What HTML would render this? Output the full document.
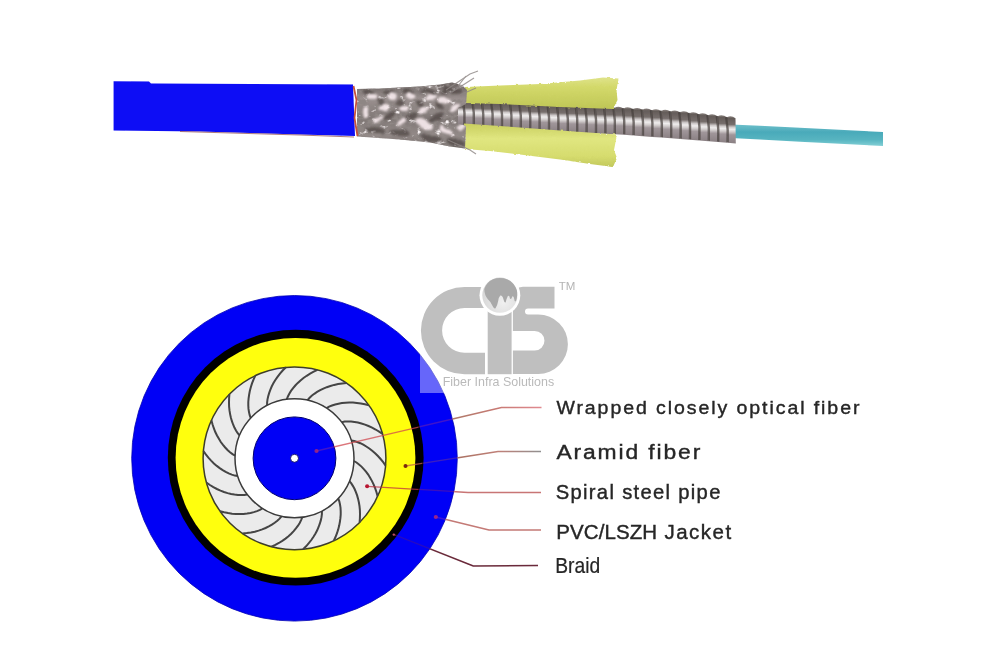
<!DOCTYPE html>
<html lang="en">
<head>
<meta charset="utf-8">
<title>Armored fiber optic cable structure</title>
<style>
html,body{margin:0;padding:0;background:#fff;}
body{width:1000px;height:667px;overflow:hidden;position:relative;font-family:"Liberation Sans",sans-serif;}
svg{position:absolute;left:0;top:0;display:block;}
.lbl text{font-family:"Liberation Sans",sans-serif;fill:#262626;stroke:#262626;stroke-width:0.4;}
</style>
</head>
<body>
<svg width="1000" height="667" viewBox="0 0 1000 667">
<defs>
  <linearGradient id="steel" x1="0" y1="0" x2="0" y2="1">
    <stop offset="0" stop-color="#8a827f"/>
    <stop offset="0.08" stop-color="#645c59"/>
    <stop offset="0.3" stop-color="#766e6c"/>
    <stop offset="0.4" stop-color="#cfcaca"/>
    <stop offset="0.48" stop-color="#efeded"/>
    <stop offset="0.57" stop-color="#d2cdcd"/>
    <stop offset="0.68" stop-color="#a0969a"/>
    <stop offset="1" stop-color="#8a8083"/>
  </linearGradient>
  <linearGradient id="fiber" x1="0" y1="0" x2="0" y2="1">
    <stop offset="0" stop-color="#6ec0cb"/>
    <stop offset="0.35" stop-color="#4aaaba"/>
    <stop offset="0.7" stop-color="#56b4c0"/>
    <stop offset="1" stop-color="#84d0d6"/>
  </linearGradient>
  <linearGradient id="braid" x1="0" y1="0" x2="0" y2="1">
    <stop offset="0" stop-color="#6a6260"/>
    <stop offset="0.25" stop-color="#9a908f"/>
    <stop offset="0.55" stop-color="#7f7775"/>
    <stop offset="0.8" stop-color="#938a88"/>
    <stop offset="1" stop-color="#6f6865"/>
  </linearGradient>
  <linearGradient id="yel" x1="0" y1="0" x2="0" y2="1">
    <stop offset="0" stop-color="#dfe38a"/>
    <stop offset="0.3" stop-color="#d3d96a"/>
    <stop offset="1" stop-color="#bfc656"/>
  </linearGradient>
  <linearGradient id="yel2" x1="0" y1="0" x2="0" y2="1">
    <stop offset="0" stop-color="#c8ce5e"/>
    <stop offset="0.35" stop-color="#e0e680"/>
    <stop offset="0.75" stop-color="#d6dc6e"/>
    <stop offset="1" stop-color="#c2c85c"/>
  </linearGradient>
  <radialGradient id="globe" cx="0.6" cy="0.7" r="0.8">
    <stop offset="0" stop-color="#f0f0f0"/>
    <stop offset="1" stop-color="#d0d0d0"/>
  </radialGradient>
  <filter id="soft" x="-5%" y="-20%" width="110%" height="140%"><feGaussianBlur stdDeviation="0.7"/></filter>
  <filter id="soft2" x="-5%" y="-20%" width="110%" height="140%"><feGaussianBlur stdDeviation="1.1"/></filter>
  <filter id="noiseDk" x="0" y="0" width="100%" height="100%">
    <feTurbulence type="fractalNoise" baseFrequency="0.16 0.2" numOctaves="3" seed="3"/>
    <feColorMatrix type="matrix" values="0 0 0 0 0.27  0 0 0 0 0.24  0 0 0 0 0.23  3 3 0 0 -2.75"/>
    <feGaussianBlur stdDeviation="0.5"/>
  </filter>
  <filter id="noiseLt" x="0" y="0" width="100%" height="100%">
    <feTurbulence type="fractalNoise" baseFrequency="0.14 0.2" numOctaves="3" seed="11"/>
    <feColorMatrix type="matrix" values="0 0 0 0 0.95  0 0 0 0 0.9  0 0 0 0 0.91  3.2 0 3.2 0 -3.75"/>
    <feGaussianBlur stdDeviation="0.5"/>
  </filter>
  <filter id="rough" x="-10%" y="-30%" width="120%" height="160%">
    <feTurbulence type="fractalNoise" baseFrequency="0.09 0.12" numOctaves="2" seed="4" result="n"/>
    <feDisplacementMap in="SourceGraphic" in2="n" scale="7" xChannelSelector="R" yChannelSelector="G" result="d"/>
    <feGaussianBlur in="d" stdDeviation="0.9"/>
  </filter>
  <filter id="fuzz" x="-10%" y="-30%" width="120%" height="160%">
    <feTurbulence type="fractalNoise" baseFrequency="0.25 0.35" numOctaves="2" seed="9" result="n"/>
    <feDisplacementMap in="SourceGraphic" in2="n" scale="2.5" xChannelSelector="R" yChannelSelector="G" result="d"/>
    <feGaussianBlur in="d" stdDeviation="0.5"/>
  </filter>
  <clipPath id="midzone"><path d="M422.4,458.3 A127.9,127.9 0 1 0 166.6,458.3 A127.9,127.9 0 1 0 422.4,458.3 Z M336,458.3 A41.5,41.5 0 1 0 253,458.3 A41.5,41.5 0 1 0 336,458.3 Z" clip-rule="evenodd"/></clipPath>
  <clipPath id="bluezone"><path d="M457.5,458.3 A163,163 0 1 0 131.5,458.3 A163,163 0 1 0 457.5,458.3 Z M422.4,458.3 A127.9,127.9 0 1 0 166.6,458.3 A127.9,127.9 0 1 0 422.4,458.3 Z M336,458.3 A41.5,41.5 0 1 0 253,458.3 A41.5,41.5 0 1 0 336,458.3 Z" clip-rule="evenodd"/></clipPath>
  <clipPath id="inside"><circle cx="294.5" cy="458.3" r="163"/></clipPath>
  <clipPath id="outside"><path d="M0,0 H1000 V667 H0 Z M457.5,458.3 A163,163 0 1 0 131.5,458.3 A163,163 0 1 0 457.5,458.3 Z" clip-rule="evenodd"/></clipPath>
  <linearGradient id="ln1" gradientUnits="userSpaceOnUse" x1="455" y1="0" x2="541" y2="0">
    <stop offset="0" stop-color="#b07a6a"/><stop offset="0.5" stop-color="#c87a74"/><stop offset="1" stop-color="#e08a90"/>
  </linearGradient>
  <linearGradient id="ln2" gradientUnits="userSpaceOnUse" x1="455" y1="0" x2="541" y2="0">
    <stop offset="0" stop-color="#a87060"/><stop offset="0.5" stop-color="#c08078"/><stop offset="1" stop-color="#909090"/>
  </linearGradient>
  <filter id="soft4" x="-2%" y="-2%" width="104%" height="104%"><feGaussianBlur stdDeviation="0.45"/></filter>
  <filter id="soft3"><feGaussianBlur stdDeviation="0.35"/></filter>
  <clipPath id="braidclip"><polygon points="357,89 380,88.5 420,86.5 440,84.5 452,82.5 462,85 467,90 466,104 458,108 458,124 466,126 465,148.5 450,146.5 430,142.5 400,139.5 357,136.5"/></clipPath>
</defs>

<!-- ===== cable photo ===== -->
<g id="cable" filter="url(#soft)">
  <!-- fiber -->
  <polygon points="731,124.5 760,125.8 800,127.8 883,132 883,146 800,141.8 760,139.4 731,138" fill="url(#fiber)"/>
  <!-- steel pipe -->
  <g fill="url(#steel)"><path d="M445.0,100.7 Q449.7,98.1 454.4,101.1 L454.7,124.5 L445.3,124.0 Z"/><path d="M454.4,101.1 Q459.1,98.5 463.8,101.5 L464.1,125.1 L454.7,124.5 Z"/><path d="M463.8,101.5 Q468.5,98.9 473.2,101.9 L473.5,125.6 L464.1,125.1 Z"/><path d="M473.2,101.9 Q477.9,99.3 482.6,102.3 L482.9,126.2 L473.5,125.6 Z"/><path d="M482.6,102.3 Q487.3,99.8 492.0,102.8 L492.3,126.9 L482.9,126.2 Z"/><path d="M492.0,102.8 Q496.7,100.2 501.4,103.3 L501.7,127.6 L492.3,126.9 Z"/><path d="M501.4,103.3 Q506.1,100.7 510.8,103.7 L511.1,128.3 L501.7,127.6 Z"/><path d="M510.8,103.7 Q515.5,101.2 520.2,104.2 L520.5,129.0 L511.1,128.3 Z"/><path d="M520.2,104.2 Q524.9,101.6 529.6,104.7 L529.9,129.7 L520.5,129.0 Z"/><path d="M529.6,104.7 Q534.3,102.1 539.0,105.1 L539.3,130.4 L529.9,129.7 Z"/><path d="M539.0,105.1 Q543.7,102.6 548.4,105.6 L548.7,131.1 L539.3,130.4 Z"/><path d="M548.4,105.6 Q553.1,103.1 557.8,106.1 L558.1,131.8 L548.7,131.1 Z"/><path d="M557.8,106.1 Q562.5,103.5 567.2,106.4 L567.5,132.3 L558.1,131.8 Z"/><path d="M567.2,106.4 Q571.9,103.8 576.6,106.8 L576.9,132.7 L567.5,132.3 Z"/><path d="M576.6,106.8 Q581.3,104.1 586.0,107.1 L586.3,133.1 L576.9,132.7 Z"/><path d="M586.0,107.1 Q590.7,104.4 595.4,107.4 L595.7,133.5 L586.3,133.1 Z"/><path d="M595.4,107.4 Q600.1,104.7 604.8,107.7 L605.1,133.9 L595.7,133.5 Z"/><path d="M604.8,107.7 Q609.5,105.0 614.2,108.0 L614.5,134.3 L605.1,133.9 Z"/><path d="M614.2,108.0 Q618.9,105.4 623.6,108.4 L623.9,134.8 L614.5,134.3 Z"/><path d="M623.6,108.4 Q628.3,106.0 633.0,109.1 L633.3,135.5 L623.9,134.8 Z"/><path d="M633.0,109.1 Q637.7,106.6 642.4,109.7 L642.7,136.2 L633.3,135.5 Z"/><path d="M642.4,109.7 Q647.1,107.2 651.8,110.3 L652.1,136.9 L642.7,136.2 Z"/><path d="M651.8,110.3 Q656.5,107.8 661.2,110.9 L661.5,137.6 L652.1,136.9 Z"/><path d="M661.2,110.9 Q665.9,108.5 670.6,111.6 L670.9,138.3 L661.5,137.6 Z"/><path d="M670.6,111.6 Q675.3,109.1 680.0,112.2 L680.3,139.0 L670.9,138.3 Z"/><path d="M680.0,112.2 Q684.7,109.9 689.4,113.2 L689.7,139.8 L680.3,139.0 Z"/><path d="M689.4,113.2 Q694.1,110.9 698.8,114.3 L699.1,140.5 L689.7,139.8 Z"/><path d="M698.8,114.3 Q703.5,112.0 708.2,115.3 L708.5,141.3 L699.1,140.5 Z"/><path d="M708.2,115.3 Q712.9,113.0 717.6,116.3 L717.9,142.1 L708.5,141.3 Z"/><path d="M717.6,116.3 Q722.3,114.0 727.0,117.3 L727.3,142.8 L717.9,142.1 Z"/><path d="M727.0,117.3 Q731.2,115.0 735.5,118.2 L735.8,143.5 L727.3,142.8 Z"/></g>
  <path d="M453.6,100.9 Q455.8,112.2 455.0,124.0 M463.0,101.3 Q465.2,112.7 464.4,124.6 M472.4,101.7 Q474.6,113.2 473.8,125.1 M481.8,102.1 Q484.0,113.7 483.2,125.7 M491.2,102.6 Q493.4,114.2 492.6,126.4 M500.6,103.1 Q502.8,114.8 502.0,127.1 M510.0,103.5 Q512.2,115.4 511.4,127.8 M519.4,104.0 Q521.6,116.0 520.8,128.5 M528.8,104.5 Q531.0,116.6 530.2,129.2 M538.2,104.9 Q540.4,117.2 539.6,129.9 M547.6,105.4 Q549.8,117.8 549.0,130.6 M557.0,105.9 Q559.2,118.4 558.4,131.3 M566.4,106.2 Q568.6,118.8 567.8,131.8 M575.8,106.6 Q578.0,119.1 577.2,132.2 M585.2,106.9 Q587.4,119.5 586.6,132.6 M594.6,107.2 Q596.8,119.8 596.0,133.0 M604.0,107.5 Q606.2,120.2 605.4,133.4 M613.4,107.8 Q615.6,120.5 614.8,133.8 M622.8,108.2 Q625.0,121.0 624.2,134.3 M632.2,108.9 Q634.4,121.7 633.6,135.0 M641.6,109.5 Q643.8,122.3 643.0,135.7 M651.0,110.1 Q653.2,123.0 652.4,136.4 M660.4,110.7 Q662.6,123.7 661.8,137.1 M669.8,111.4 Q672.0,124.3 671.2,137.8 M679.2,112.0 Q681.4,125.0 680.6,138.5 M688.6,113.0 Q690.8,125.9 690.0,139.3 M698.0,114.1 Q700.2,126.8 699.4,140.0 M707.4,115.1 Q709.6,127.7 708.8,140.8 M716.8,116.1 Q719.0,128.6 718.2,141.6 M726.2,117.1 Q728.4,129.5 727.6,142.3" stroke="#453d3b" stroke-width="2.4" fill="none" opacity="0.7"/>
  <!-- yellow aramid -->
  <path d="M465,87 L500,85.5 L540,84 L580,80.5 L603,77.5 L618.5,78.5 L616.5,90 L617.5,100 L613,109 L560,107 L500,104 L465,103 Z" fill="url(#yel)" filter="url(#fuzz)"/>
  <path d="M464,123.5 L500,126 L560,130.5 L617,134.5 L614,150 L617,158 L613,167 L590,164 L560,159.5 L520,154.5 L490,151 L465,149 Z" fill="url(#yel2)" filter="url(#fuzz)"/>
  <!-- braid -->
  <polygon points="357,89 380,88.5 420,86.5 440,84.5 452,82.5 462,85 467,90 466,104 458,108 458,124 466,126 465,148.5 450,146.5 430,142.5 400,139.5 357,136.5" fill="url(#braid)"/>
  <g clip-path="url(#braidclip)">
    <rect x="355" y="80" width="120" height="72" filter="url(#noiseDk)"/>
    <rect x="355" y="80" width="120" height="72" filter="url(#noiseLt)"/>
    <g fill="#4d4543" opacity="0.7" filter="url(#rough)"><ellipse cx="368" cy="92" rx="6" ry="2.5" transform="rotate(0 368 92)"/><ellipse cx="388" cy="92" rx="6" ry="2.5" transform="rotate(0 388 92)"/><ellipse cx="408" cy="92" rx="7" ry="2.5" transform="rotate(0 408 92)"/><ellipse cx="428" cy="92" rx="7" ry="2.5" transform="rotate(0 428 92)"/><ellipse cx="447" cy="90" rx="6" ry="3" transform="rotate(-20 447 90)"/><ellipse cx="380" cy="102" rx="4" ry="3" transform="rotate(40 380 102)"/><ellipse cx="400" cy="103" rx="4" ry="3" transform="rotate(40 400 103)"/><ellipse cx="420" cy="104" rx="4" ry="3" transform="rotate(40 420 104)"/><ellipse cx="440" cy="106" rx="4" ry="3" transform="rotate(40 440 106)"/><ellipse cx="390" cy="116" rx="7" ry="3" transform="rotate(-35 390 116)"/><ellipse cx="412" cy="116" rx="7" ry="3" transform="rotate(-35 412 116)"/><ellipse cx="436" cy="118" rx="7" ry="3" transform="rotate(-35 436 118)"/><ellipse cx="375" cy="130" rx="10" ry="3" transform="rotate(5 375 130)"/><ellipse cx="400" cy="133" rx="10" ry="3" transform="rotate(8 400 133)"/><ellipse cx="430" cy="138" rx="12" ry="3" transform="rotate(12 430 138)"/><ellipse cx="455" cy="142" rx="10" ry="3" transform="rotate(15 455 142)"/><ellipse cx="456" cy="92" rx="5" ry="4" transform="rotate(0 456 92)"/></g>
    <g fill="#f3e6e9" opacity="0.95" filter="url(#rough)"><ellipse cx="372" cy="96" rx="5.5" ry="3" transform="rotate(-8 372 96)"/><ellipse cx="392" cy="96" rx="5.5" ry="3" transform="rotate(-8 392 96)"/><ellipse cx="411" cy="96" rx="5.5" ry="3" transform="rotate(-8 411 96)"/><ellipse cx="431" cy="97" rx="5.5" ry="3" transform="rotate(-8 431 97)"/><ellipse cx="384" cy="108" rx="5.5" ry="3" transform="rotate(-8 384 108)"/><ellipse cx="404" cy="109" rx="5.5" ry="3" transform="rotate(-8 404 109)"/><ellipse cx="424" cy="110" rx="5.5" ry="3" transform="rotate(-8 424 110)"/><ellipse cx="444" cy="100" rx="5.5" ry="3" transform="rotate(-8 444 100)"/><ellipse cx="424" cy="124" rx="9" ry="4" transform="rotate(25 424 124)"/><ellipse cx="446" cy="130" rx="8" ry="3.5" transform="rotate(30 446 130)"/><ellipse cx="402" cy="122" rx="5" ry="2.5" transform="rotate(-30 402 122)"/><ellipse cx="378" cy="120" rx="5" ry="2.5" transform="rotate(-20 378 120)"/><ellipse cx="462" cy="128" rx="5" ry="3" transform="rotate(-40 462 128)"/><ellipse cx="455" cy="108" rx="6" ry="2.5" transform="rotate(-35 455 108)"/><ellipse cx="366" cy="112" rx="3" ry="6" transform="rotate(0 366 112)"/></g>
  </g>
  <!-- fray wires -->
  <g stroke="#8d8684" stroke-width="1.2" fill="none" opacity="0.8">
    <path d="M446,90 L470,74 L478,71"/>
    <path d="M452,92 L474,78"/>
    <path d="M458,86 L466,76"/>
    <path d="M448,140 L470,150 L476,154"/>
    <path d="M460,95 L476,88"/>
  </g>
  <!-- jacket -->
  <polygon points="113.6,81.2 149,81.5 151,83.4 353,84.6 355,136 300,134.6 200,131.6 113.6,130.4" fill="#0b0bf5"/>
  <path d="M180,131.5 L300,135 L354,137" stroke="#9a5a5a" stroke-width="1" fill="none" opacity="0.8"/>
  <path d="M353.5,86 L356.5,100 L354.5,118 L357.5,136" stroke="#c4523c" stroke-width="1.8" fill="none"/>
</g>

<!-- ===== cross section ===== -->
<g id="xsec" filter="url(#soft4)">
  <circle cx="294.5" cy="458.3" r="162.8" fill="#0404f6" stroke="#0000b4" stroke-width="0.8"/>
  <circle cx="295.7" cy="457.7" r="127.9" fill="#000"/>
  <circle cx="295.5" cy="457.9" r="119.9" fill="#ffff08"/>
  <circle cx="294.5" cy="458.3" r="91.4" fill="#ebebeb" stroke="#3e3e2a" stroke-width="1.5"/>
  <path d="M250.7,418.0 L249.7,415.2 L249.0,412.1 L248.5,408.9 L248.3,405.5 L248.3,402.0 L248.6,398.4 L249.1,394.8 L249.8,391.0 L250.8,387.2 L252.0,383.4 L253.5,379.6 L255.3,375.7 M239.6,435.4 L237.7,433.2 L236.0,430.5 L234.4,427.6 L233.1,424.5 L231.9,421.2 L230.9,417.7 L230.1,414.1 L229.5,410.4 L229.1,406.5 L229.0,402.5 L229.1,398.3 L229.4,394.1 M235.1,455.6 L232.5,454.1 L230.0,452.2 L227.5,450.0 L225.2,447.5 L223.0,444.9 L220.8,442.0 L218.9,438.8 L217.0,435.5 L215.3,432.0 L213.8,428.2 L212.5,424.3 L211.4,420.3 M237.7,476.1 L234.8,475.6 L231.8,474.6 L228.7,473.4 L225.7,471.9 L222.7,470.1 L219.7,468.1 L216.8,465.9 L213.9,463.4 L211.1,460.6 L208.4,457.6 L205.8,454.4 L203.4,451.0 M247.2,494.4 L244.3,495.0 L241.1,495.1 L237.9,495.0 L234.5,494.6 L231.1,494.0 L227.6,493.1 L224.0,492.0 L220.5,490.6 L216.9,489.0 L213.4,487.1 L209.9,485.0 L206.4,482.6 M262.4,508.4 L259.9,509.9 L257.0,511.1 L253.8,512.1 L250.5,512.9 L247.1,513.5 L243.5,513.9 L239.8,514.1 L236.0,514.0 L232.1,513.7 L228.1,513.1 L224.1,512.3 L220.0,511.2 M281.5,516.4 L279.6,518.6 L277.3,520.8 L274.7,522.8 L271.9,524.7 L268.8,526.4 L265.6,528.0 L262.2,529.4 L258.6,530.6 L254.8,531.7 L250.9,532.5 L246.8,533.1 L242.6,533.5 M302.2,517.3 L301.1,520.1 L299.7,522.9 L298.0,525.7 L295.9,528.4 L293.7,531.1 L291.2,533.7 L288.5,536.2 L285.5,538.6 L282.3,540.8 L278.9,543.0 L275.3,544.9 L271.5,546.7 M321.9,511.1 L321.9,514.1 L321.5,517.2 L320.8,520.4 L319.8,523.7 L318.6,527.0 L317.2,530.3 L315.5,533.5 L313.5,536.8 L311.3,540.0 L308.8,543.2 L306.1,546.3 L303.1,549.3 M338.3,498.6 L339.3,501.4 L340.0,504.5 L340.5,507.7 L340.7,511.1 L340.7,514.6 L340.4,518.2 L339.9,521.8 L339.2,525.6 L338.2,529.4 L337.0,533.2 L335.5,537.0 L333.7,540.9 M349.4,481.2 L351.3,483.4 L353.0,486.1 L354.6,489.0 L355.9,492.1 L357.1,495.4 L358.1,498.9 L358.9,502.5 L359.5,506.2 L359.9,510.1 L360.0,514.1 L359.9,518.3 L359.6,522.5 M353.9,461.0 L356.5,462.5 L359.0,464.4 L361.5,466.6 L363.8,469.1 L366.0,471.7 L368.2,474.6 L370.1,477.8 L372.0,481.1 L373.7,484.6 L375.2,488.4 L376.5,492.3 L377.6,496.3 M351.3,440.5 L354.2,441.0 L357.2,442.0 L360.3,443.2 L363.3,444.7 L366.3,446.5 L369.3,448.5 L372.2,450.7 L375.1,453.2 L377.9,456.0 L380.6,459.0 L383.2,462.2 L385.6,465.6 M341.8,422.2 L344.7,421.6 L347.9,421.5 L351.1,421.6 L354.5,422.0 L357.9,422.6 L361.4,423.5 L365.0,424.6 L368.5,426.0 L372.1,427.6 L375.6,429.5 L379.1,431.6 L382.6,434.0 M326.6,408.2 L329.1,406.7 L332.0,405.5 L335.2,404.5 L338.5,403.7 L341.9,403.1 L345.5,402.7 L349.2,402.5 L353.0,402.6 L356.9,402.9 L360.9,403.5 L364.9,404.3 L369.0,405.4 M307.5,400.2 L309.4,398.0 L311.7,395.8 L314.3,393.8 L317.1,391.9 L320.2,390.2 L323.4,388.6 L326.8,387.2 L330.4,386.0 L334.2,384.9 L338.1,384.1 L342.2,383.5 L346.4,383.1 M286.8,399.3 L287.9,396.5 L289.3,393.7 L291.0,390.9 L293.1,388.2 L295.3,385.5 L297.8,382.9 L300.5,380.4 L303.5,378.0 L306.7,375.8 L310.1,373.6 L313.7,371.7 L317.5,369.9 M267.1,405.5 L267.1,402.5 L267.5,399.4 L268.2,396.2 L269.2,392.9 L270.4,389.6 L271.8,386.3 L273.5,383.1 L275.5,379.8 L277.7,376.6 L280.2,373.4 L282.9,370.3 L285.9,367.3" stroke="#444" stroke-width="2" fill="none"/>
  <circle cx="294.5" cy="458.3" r="59.5" fill="#fff" stroke="#3a3a3a" stroke-width="1.5"/>
  <circle cx="294.5" cy="458.3" r="41.4" fill="#0404f6" stroke="#00006e" stroke-width="1"/>
  <circle cx="294.5" cy="458.3" r="4" fill="#fff" stroke="#000064" stroke-width="0.9"/>
</g>

<!-- ===== watermark logo ===== -->
<g id="logo" filter="url(#soft3)">
  <rect x="420" y="283" width="160" height="110" fill="#fff" opacity="0.4"/>
  <g fill="#bfbfbf">
    <!-- C -->
    <path d="M485,287 H464.5 A43.6,43.6 0 0 0 464.5,374.2 H485 V352.8 H464.5 A22.4,22.4 0 0 1 464.5,308 H485 Z"/>
    <!-- I -->
    <rect x="487.7" y="310" width="23.9" height="64.2"/>
  </g>
  <!-- S -->
  <path d="M554.5,286.7 H522.9 A10,10 0 0 0 512.9,296.7 V331 H534.7 A9.75,9.75 0 0 1 534.7,350.5 H512.9 V373.9 H538.2 A29.7,29.7 0 0 0 538.2,314.5 H528 A3,3 0 0 1 528,308.5 H554.5 Z" fill="#bfbfbf"/>
  <circle cx="499.9" cy="295.3" r="20.4" fill="#fff"/>
  <circle cx="499.9" cy="295.2" r="17.6" fill="url(#globe)"/>
  <path transform="translate(499.9 295.2) scale(1.035) translate(-499.6 -295.7)" d="M484.5,290 Q486.5,283 493,280.2 Q500,277.8 507,280.5 Q513.5,283.5 516,291 Q516.8,296.5 515.3,301 Q513.8,303 513.5,299.5 Q513,296 511.5,297 Q510.5,300.5 509.3,299 Q509,295.5 507.3,296.5 Q506,299 505.2,302.5 Q504,303.5 503,299.5 Q502,295.5 500,296 Q498.5,297.5 498,301 Q497.3,305 495.5,308 Q494.3,309.5 492.8,306.5 Q491,302 488,299.5 Q484.8,296.5 484.5,290 Z" fill="#a9a9a9"/>
  <text x="558.8" y="289.8" font-family="Liberation Sans, sans-serif" font-size="11" fill="#b4b4b4" textLength="16.6" lengthAdjust="spacingAndGlyphs">TM</text>
  <text x="442.7" y="386.4" font-family="Liberation Sans, sans-serif" font-size="13" fill="#bababa" textLength="111.5" lengthAdjust="spacingAndGlyphs">Fiber Infra Solutions</text>
</g>

<!-- ===== leader lines ===== -->
<g fill="none" stroke-width="1.5" stroke-linejoin="round" filter="url(#soft3)" clip-path="url(#outside)">
  <polyline points="316.5,451 501.5,407.6 541.5,407.6" stroke="url(#ln1)"/>
  <polyline points="405.5,466 498,451.4 541,451.4" stroke="url(#ln2)"/>
  <polyline points="367.1,486.3 468,492.4 541,492.4" stroke="#c87474"/>
  <polyline points="435.8,517 489,530 541,530" stroke="#c47a76"/>
  <polyline points="393.5,534.4 473.3,566 538,565.5" stroke="#6a2a3a"/>
</g>
<g fill="none" stroke-width="1.3" stroke-linejoin="round" filter="url(#soft3)" clip-path="url(#midzone)" opacity="0.75">
  <polyline points="316.5,451 501.5,407.6 541.5,407.6" stroke="#d04a50"/>
  <polyline points="405.5,466 498,451.4 541,451.4" stroke="#c0604a"/>
  <polyline points="367.1,486.3 468,492.4 541,492.4" stroke="#c03040"/>
  <polyline points="435.8,517 489,530 541,530" stroke="#c0408a"/>
  <polyline points="393.5,534.4 473.3,566 538,565.5" stroke="#7a2050"/>
</g>
<g fill="none" stroke-width="1.4" stroke-linejoin="round" filter="url(#soft3)" clip-path="url(#bluezone)" opacity="0.3">
  <polyline points="316.5,451 501.5,407.6 541.5,407.6" stroke="#d0406a"/>
  <polyline points="405.5,466 498,451.4 541,451.4" stroke="#c0604a"/>
  <polyline points="367.1,486.3 468,492.4 541,492.4" stroke="#c03040"/>
  <polyline points="435.8,517 489,530 541,530" stroke="#c0408a"/>
  <polyline points="393.5,534.4 473.3,566 538,565.5" stroke="#7a2050"/>
</g>
<g filter="url(#soft3)">
  <circle cx="316.5" cy="451" r="2.1" fill="#b02a70" opacity="0.8"/>
  <circle cx="405.5" cy="466" r="2" fill="#7a2a10"/>
  <circle cx="367.1" cy="486.3" r="2" fill="#b81830"/>
  <circle cx="435.8" cy="517" r="2.1" fill="#b02a7a" opacity="0.85"/>
  <circle cx="393.8" cy="534.6" r="1.2" fill="#c05060"/>
</g>

<!-- ===== labels ===== -->
<g class="lbl" filter="url(#soft3)">
  <g transform="translate(556.4,413.7) scale(1.045,1)"><text x="0" y="0" font-size="18.7" textLength="290" lengthAdjust="spacing">Wrapped closely optical fiber</text></g>
  <g transform="translate(556.4,459) scale(1.09,1)"><text x="0" y="0" font-size="21" textLength="132" lengthAdjust="spacing">Aramid fiber</text></g>
  <text x="555.7" y="499.3" font-size="20.2" textLength="164.7" lengthAdjust="spacing">Spiral steel pipe</text>
  <text x="556.2" y="538.8" font-size="20.5" letter-spacing="0.1">PVC/LSZH<tspan letter-spacing="1.5"> Jacket</tspan></text>
  <g transform="translate(555.2,572.7) scale(0.9,1)"><text x="0" y="0" font-size="21.4" textLength="50" lengthAdjust="spacing" style="stroke-width:0.2">Braid</text></g>
</g>
</svg>
</body>
</html>
